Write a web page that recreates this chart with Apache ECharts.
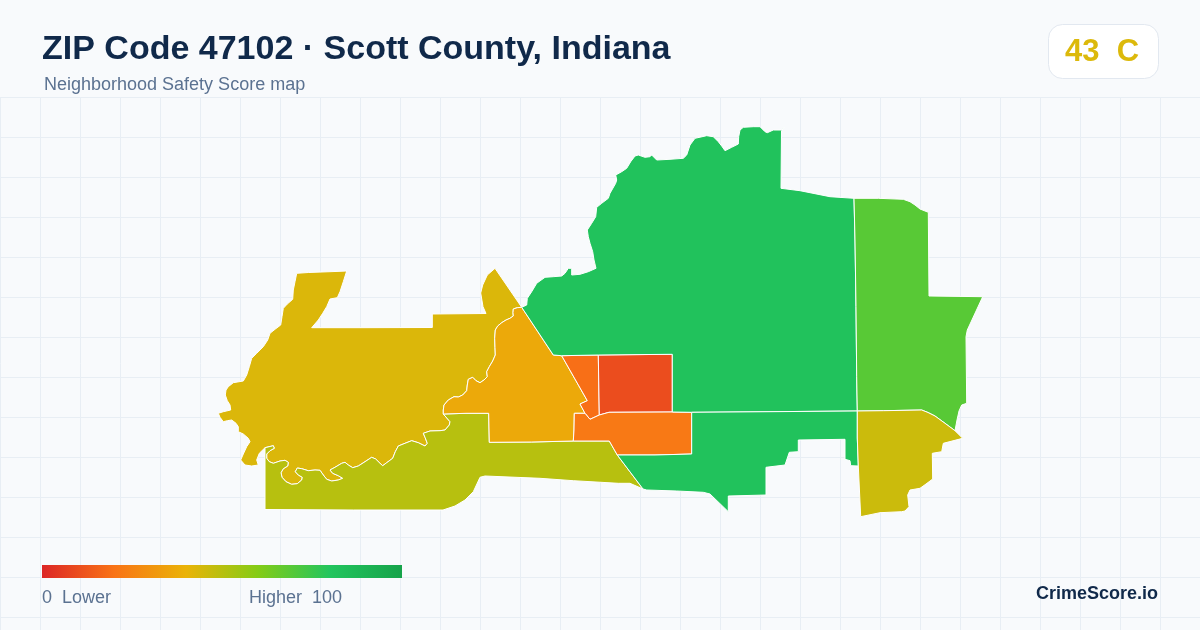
<!DOCTYPE html>
<html>
<head>
<meta charset="utf-8">
<style>html,body{margin:0;padding:0;background:#f8fafc}#chart{width:1200px;height:630px}</style>
<script src="https://cdn.jsdelivr.net/npm/echarts@6/dist/echarts.min.js"></script>
</head>
<body>
<div id="chart"></div>
<script>
const titleText = 'ZIP Code 47102 · Scott County, Indiana';
const subtitleText = 'Neighborhood Safety Score map';
const badgeText = '43  C';
const legendLow = '0  Lower';
const legendHigh = 'Higher  100';
const brandText = 'CrimeScore.io';

const regionNames = ['West','Southwest','Center','SmallOrange','Red','Orange','North','South','East','Southeast'];
const regionScores = [43, 50, 37, 19, 10, 22, 82, 82, 69, 46];
const scaleColors = ['#dc2626','#f97316','#eab308','#84cc16','#22c55e','#16a34a'];

/* Boundaries as [x, y] */
const riverBorder = [[265,447.7],[273.3,445.7],[274.3,448.3],[270,450.7],[266.7,454],[266.7,458.3],[269.3,461.7],[273.3,463.3],[280,461],[285,460.3],[288.3,462.3],[287.7,466],[283.3,468.7],[281,472.7],[282,477.3],[286,481.7],[291.7,484.3],[297.3,483.7],[301.7,480],[302.3,477.3],[298.3,475],[295.3,471.7],[297.3,468],[301.7,468.7],[308.3,470.7],[315,470],[320,470.3],[323.3,475],[326.7,479.3],[331.7,481],[338.3,480],[342.7,478.3],[338.3,475.7],[332.7,473.3],[330,470],[335,467.3],[341.7,463.3],[345,462.3],[348.3,465],[352.7,467.7],[358.3,466],[365,461.7],[371.7,457.3],[375.7,459],[380,463.3],[382.7,465.7],[386.7,462.7],[392.7,458.3],[395.3,451.7],[398.3,446],[405,443.3],[411.7,440.7],[418.3,442.7],[425,446],[427.3,443.3],[425,437.3],[423.3,433.3],[430,431],[440,430.7],[445,430],[449.3,425],[450,421.7],[443.3,414]];
const centerBorder = [[521.7,307.3],[517.3,307.7],[513.3,309],[513,312.7],[513.3,316],[510,318.3],[506,320],[501.7,322.7],[497.7,326],[495.3,330],[494.7,338.3],[495,347.3],[495.3,355],[492.7,361],[489.3,366.7],[486.7,371.7],[487.3,376.7],[484,380],[480,382.7],[476,380.7],[472.7,377.3],[468.3,379.3],[467.3,385],[466.7,390.7],[462.7,395],[458.3,397],[454,396.7],[448.3,400],[444,405],[443.3,410],[443.3,414]];
const westTop = [[296.7,273.3],[308.3,272.5],[335,271.5],[346.7,271],[343.3,281.7],[340,291.7],[337.3,297.7],[330,299],[326.7,306.7],[322.7,313.3],[318.3,320],[311.7,327.7],[360,327.7],[432.3,327.5],[432.3,314],[486,313.5],[483,306.7],[480.7,293],[482.7,285],[487.3,275],[495,268.3]];
const westSide = [[259.3,453.3],[256.7,460],[258.3,465],[251.7,466],[245,465],[240.7,460],[243.3,454],[246.7,446.7],[250,441.7],[248.3,438.3],[243.3,434],[238.3,431.7],[238.3,426.7],[236,423.3],[231.7,420],[227.3,420.7],[223.3,421.7],[220,417.3],[218.3,413.3],[223.3,411.7],[230.7,410],[230,405],[227.3,400.7],[225.3,395],[226,390],[228.3,386.7],[233.3,382.7],[243.3,381],[246.7,375],[249.3,366.7],[251.7,358.3],[256.7,353.3],[263.3,346.7],[267.7,340],[270,333.3],[275,329.3],[280.7,325],[282,316.7],[283.3,308.3],[287.3,304],[292.7,299.3],[293.3,290],[295,281.7]];
const boundarySpeck = [[594,262],[596,263],[597,266],[595.5,268],[594.5,265]];
const southwestRest = [[466,413.3],[488.7,413.3],[489.3,442.3],[531.7,442],[573.3,441],[609.3,441],[617.3,455],[643,489],[630,483.3],[618.3,483.3],[573.3,480.7],[540,478.3],[485,476],[480,477.3],[473.3,491.7],[465,500],[455,506],[443,510],[430,510],[353.3,510],[265,509.5]];
const centerRest = [[521.7,307.3],[553.3,355],[561.7,355.7],[587.3,400.7],[580,404],[585,413.3],[574.3,413.3],[574,430],[573.3,441],[531.7,442],[489.3,442.3],[488.7,413.3],[466,413.3]];
const boundarySmallOrange = [[561.7,355.7],[598.3,355],[599.3,415],[590,419.3],[585,413.3],[580,404],[587.3,400.7]];
const boundaryRed = [[598.3,355],[628,354.7],[672.3,354.3],[672.3,412],[609,412.3],[599.3,415]];
const boundaryOrange = [[574.3,413.3],[585,413.3],[590,419.3],[599.3,415],[609,412.3],[672.3,412],[691.7,412.3],[691.7,454],[655,455],[617.3,455],[609.3,441],[573.3,441],[574,430]];
const boundaryNorth = [[521.7,307.3],[526.7,305],[527.3,298.3],[531.7,291.7],[536.7,283.3],[545,277.3],[553.3,276.7],[561.7,276],[565,273.3],[568.3,268.3],[571.7,268.3],[571.7,275],[580,274.3],[588.3,271.7],[596,268.3],[594,260],[592.7,251.7],[590,243.3],[588.3,236.7],[587.3,230],[591.7,223.3],[595.7,216.7],[596.7,207.3],[601.7,203.3],[608.3,198.3],[610,193.3],[615.7,183.3],[616.7,180],[615.7,175],[621.7,171.7],[626.7,168.3],[630.7,161.7],[635,156],[638.3,155],[645,157.3],[650,156.7],[651.7,155],[656.7,160],[670,159.3],[683.3,158.3],[686.7,155],[690,145],[695,138.3],[706.7,135.7],[713.3,136.7],[718.3,141.7],[721.7,146],[725,150.7],[731.7,147.3],[738.3,144],[738.7,136.7],[740,130],[743.3,127.3],[753.3,126.7],[760,126.7],[765,131.7],[767.3,132.7],[773.3,130],[781.7,130],[784,127.3],[781.5,131],[781,188.3],[800,190.7],[830,196.7],[854,198.3],[855,240],[856,306.7],[856.7,376.7],[857.3,411],[691.7,412.3],[672.3,412],[672.3,354.3],[628,354.7],[598.3,355],[561.7,355.7],[553.3,355]];
const boundarySouth = [[691.7,412.3],[857.3,411],[857.3,438],[858.3,466],[850.7,465.7],[850,460.7],[845,459.3],[845,439.3],[798.3,440],[798.3,451.7],[789.3,452.3],[785,465],[766,467.3],[766,495],[728.3,496],[728.3,511.7],[710,494],[703.3,492.3],[676.7,491],[646.7,490],[643,489],[617.3,455],[655,455],[691.7,454]];
const boundaryEast = [[854,198.3],[878.3,198.3],[903.3,199.3],[910,201.7],[915,205],[920,209],[928.3,212.3],[929,296],[982.7,296.7],[967.3,330],[966,336.7],[966.7,403.3],[961.7,405],[959,411],[957,420],[955,430.7],[945,423.3],[935,416],[928,412.5],[921.7,410],[883.3,410.7],[857.3,411],[856.7,376.7],[856,306.7],[855,240]];
const boundarySoutheast = [[857.3,411],[883.3,410.7],[921.7,410],[928,412.5],[935,416],[945,423.3],[955,430.7],[962.7,438.3],[943.3,443.3],[941.7,451.7],[932.3,453.3],[932.7,479],[926,484],[920,488.3],[910,490],[907.7,495],[909,506.7],[905,511],[901.7,511.7],[880,512.7],[860.7,516.7],[858.3,466],[857.3,438]];

const boundaryWest = [...westTop, ...centerBorder, ...[...riverBorder].reverse().slice(1), ...westSide];
const boundarySouthwest = [...riverBorder, ...southwestRest];
const boundaryCenter = [...centerRest, ...[...centerBorder].reverse().slice(0, -1)];

const regionShapes = [
  [boundaryWest, boundarySpeck], [boundarySouthwest], [boundaryCenter], [boundarySmallOrange],
  [boundaryRed], [boundaryOrange], [boundaryNorth], [boundarySouth], [boundaryEast], [boundarySoutheast]
];

const font = '"Liberation Sans", Arial, sans-serif';
const toRing = r => { const c = r.map(p => [p[0], -p[1]]); c.push(c[0]); return [c]; };
const geoJson = {
  type: 'FeatureCollection',
  features: regionNames.map((name, i) => ({
    type: 'Feature',
    properties: { name },
    geometry: { type: 'MultiPolygon', coordinates: regionShapes[i].map(toRing) }
  }))
};
echarts.registerMap('zip47102', geoJson);

const chart = echarts.init(document.getElementById('chart'), null, { renderer: 'canvas' });
chart.setOption({
  animation: false,
  backgroundColor: '#f8fafc',
  title: [
    { text: titleText, left: 42, top: 33, padding: 0, z: 50,
      textStyle: { fontFamily: font, fontSize: 34, fontWeight: 'bold', color: '#10294a' } },
    { text: subtitleText, left: 44, top: 76, padding: 0, z: 50,
      textStyle: { fontFamily: font, fontSize: 18, fontWeight: 'normal', color: '#5b7291' } }
  ],
  grid: { left: 0, right: 0, top: 97, bottom: 0, show: false },
  xAxis: { type: 'value', min: 0, max: 1200, interval: 40, axisLine: { show: false }, axisTick: { show: false }, axisLabel: { show: false },
    splitLine: { show: true, lineStyle: { color: '#e8eef4', width: 1 } } },
  yAxis: { type: 'value', inverse: true, min: 0, max: 533, interval: 40, axisLine: { show: false }, axisTick: { show: false }, axisLabel: { show: false },
    splitLine: { show: true, lineStyle: { color: '#e8eef4', width: 1 } } },
  visualMap: {
    type: 'continuous', min: 0, max: 100, show: false, seriesIndex: 0,
    inRange: { color: scaleColors }
  },
  series: [{
    type: 'map', map: 'zip47102', left: 0, top: 0, width: 1200, height: 630,
    aspectScale: 1, boundingCoords: [[0, 0], [1200, -630]], roam: false, silent: true,
    label: { show: false }, emphasis: { disabled: true }, select: { disabled: true },
    itemStyle: { borderColor: '#ffffff', borderWidth: 1 },
    data: regionNames.map((name, i) => ({ name, value: regionScores[i] }))
  }],
  graphic: [
    { type: 'rect', silent: true, z: 50, shape: { x: 42, y: 565, width: 360, height: 13 },
      style: { fill: new echarts.graphic.LinearGradient(0, 0, 1, 0,
        scaleColors.map((color, i) => ({ offset: i / (scaleColors.length - 1), color }))) } },
    { type: 'rect', silent: true, z: 50, shape: { x: 1048.5, y: 24.5, width: 110, height: 54, r: 14 },
      style: { fill: '#ffffff', stroke: '#e2e8f0', lineWidth: 1 } },
    { type: 'text', silent: true, z: 51, x: 1065, y: 52, style: { text: badgeText, font: 'bold 31px ' + font, fill: '#dcb90b', verticalAlign: 'middle' } },
    { type: 'text', silent: true, z: 50, x: 42, y: 598.5, style: { text: legendLow, font: '18px ' + font, fill: '#5b7291', verticalAlign: 'middle' } },
    { type: 'text', silent: true, z: 50, x: 249, y: 598.5, style: { text: legendHigh, font: '18px ' + font, fill: '#5b7291', verticalAlign: 'middle' } },
    { type: 'text', silent: true, z: 50, x: 1158, y: 594.5, style: { text: brandText, font: 'bold 18px ' + font, fill: '#10294a', align: 'right', verticalAlign: 'middle' } }
  ]
});
</script>
</body>
</html>
